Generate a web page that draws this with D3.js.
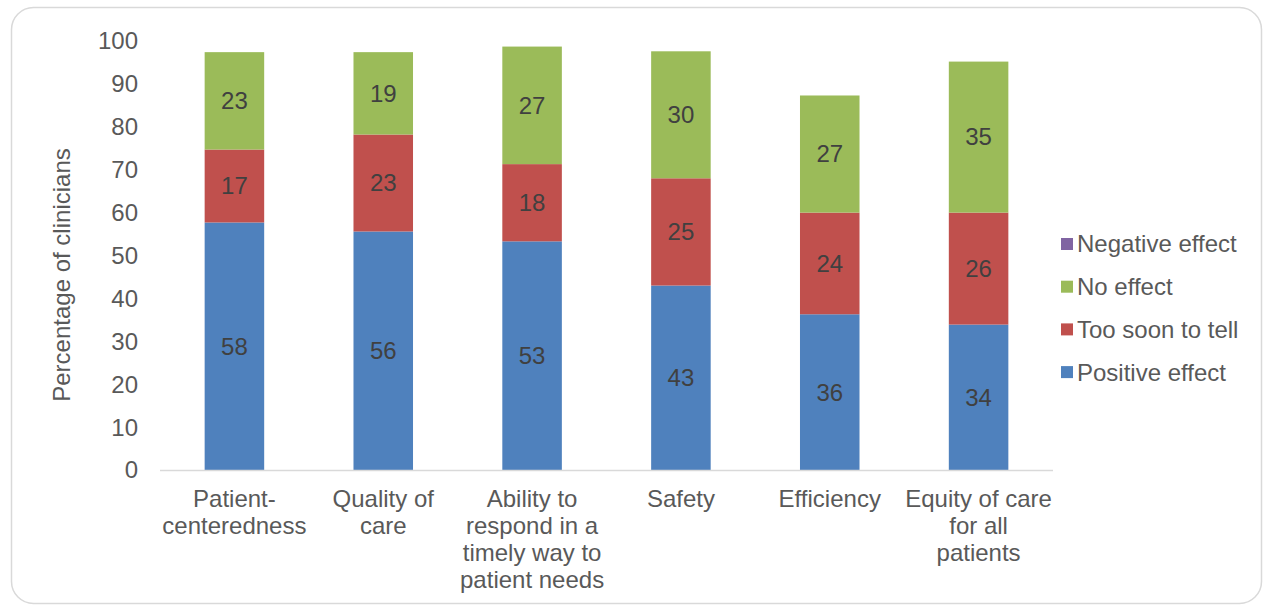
<!DOCTYPE html>
<html><head><meta charset="utf-8">
<script src="https://cdn.jsdelivr.net/npm/d3@7"></script>
<style>body{margin:0;background:#fff;} svg{display:block;font-family:"Liberation Sans",Arial,sans-serif;}</style>
</head><body>
<svg id="c" width="1264" height="605"></svg>
<script>
const categories = [
  ["Patient-","centeredness"],
  ["Quality of","care"],
  ["Ability to","respond in a","timely way to","patient needs"],
  ["Safety"],
  ["Efficiency"],
  ["Equity of care","for all","patients"]
];
const positiveEffect = [57.7, 55.6, 53.3, 43.0, 36.3, 33.9];
const tooSoonToTell = [17.0, 22.6, 18.0, 25.0, 23.7, 26.1];
const noEffect = [22.7, 19.2, 27.4, 29.6, 27.3, 35.2];
const negativeEffect = [0, 0, 0, 0, 0, 0];
const yTicks = [0,10,20,30,40,50,60,70,80,90,100];
const seriesNames = ["Positive effect","Too soon to tell","No effect","Negative effect"];
const seriesColors = ["#4F81BD","#C0504D","#9BBB59","#8064A2"];
const seriesValues = [positiveEffect, tooSoonToTell, noEffect, negativeEffect];

const FS = 24;
const svg = d3.select("#c");
svg.append("rect").attr("x",11.5).attr("y",7.5).attr("width",1250).attr("height",596)
  .attr("rx",22).attr("fill","#fff").attr("stroke","#d9d9d9").attr("stroke-width",1.5);

const pLeft=160, pRight=1053, pTop=41, pBottom=470;
const x = d3.scaleBand().domain(d3.range(categories.length)).range([pLeft,pRight]).paddingInner(0.6).paddingOuter(0.3);
const y = d3.scaleLinear().domain([0,100]).range([pBottom,pTop]);

// y tick labels
svg.append("g").selectAll("text").data(yTicks).join("text")
  .attr("x",138).attr("y",d=>y(d)).attr("dy","0.35em").attr("text-anchor","end")
  .attr("font-size",FS).attr("fill","#595959").text(d=>d);

// stack
const rows = categories.map((c,i)=>{const o={i}; seriesNames.forEach((s,k)=>o[s]=seriesValues[k][i]); return o;});
const stack = d3.stack().keys(seriesNames)(rows);
stack.forEach((layer,k)=>{
  const g = svg.append("g");
  g.selectAll("rect").data(layer).join("rect")
    .attr("x",d=>x(d.data.i)).attr("width",x.bandwidth())
    .attr("y",d=>y(d[1])).attr("height",d=>y(d[0])-y(d[1]))
    .attr("fill",seriesColors[k]);
  g.selectAll("text").data(layer.filter(d=>d[1]-d[0]>0)).join("text")
    .attr("x",d=>x(d.data.i)+x.bandwidth()/2).attr("y",d=>y((d[0]+d[1])/2)).attr("dy","0.35em")
    .attr("text-anchor","middle").attr("font-size",FS).attr("fill","#404040")
    .text(d=>Math.round(d[1]-d[0]));
});

// x axis line
svg.append("line").attr("x1",pLeft).attr("x2",pRight).attr("y1",pBottom+0.5).attr("y2",pBottom+0.5)
  .attr("stroke","#d9d9d9").attr("stroke-width",1.5);

// category labels
const cl = svg.append("g").selectAll("text").data(categories).join("text")
  .attr("text-anchor","middle").attr("font-size",FS).attr("fill","#595959");
cl.each(function(lines,i){
  d3.select(this).selectAll("tspan").data(lines).join("tspan")
    .attr("x",x(i)+x.bandwidth()/2).attr("y",(d,j)=>506.5+j*27.3).text(d=>d);
});

// y axis title
svg.append("text").attr("transform","translate(62,275) rotate(-90)").attr("text-anchor","middle")
  .attr("dy","0.35em").attr("font-size",FS).attr("fill","#595959").text("Percentage of clinicians");

// legend (reverse order)
const legendOrder = [3,2,1,0];
const lg = svg.append("g").selectAll("g").data(legendOrder).join("g")
  .attr("transform",(d,j)=>`translate(1061,${244+j*42.7})`);
lg.append("rect").attr("x",0).attr("y",-6).attr("width",12).attr("height",12).attr("fill",d=>seriesColors[d]);
lg.append("text").attr("x",16).attr("y",0).attr("dy","0.35em").attr("font-size",FS).attr("fill","#595959").text(d=>seriesNames[d]);
</script>
</body></html>
